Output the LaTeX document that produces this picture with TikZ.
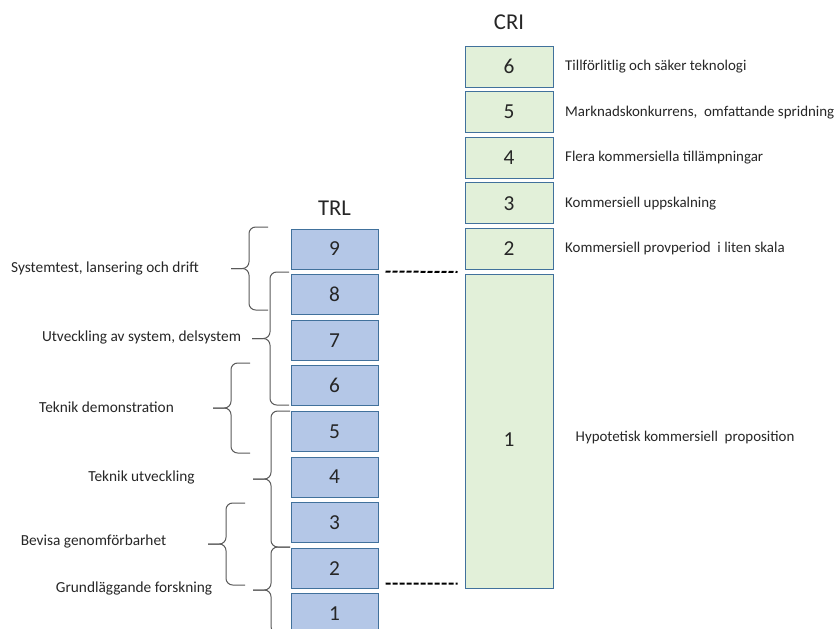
\documentclass[tikz,border=0pt]{standalone}
\usepackage{fontspec}
\setmainfont{Carlito}
\usepackage{tikz, xcolor}
\usetikzlibrary{calc}

\definecolor{trlblue}{HTML}{B4C7E7}
\definecolor{crigreen}{HTML}{E2F0D9}
\definecolor{boxedge}{HTML}{41719C}
\definecolor{braceline}{HTML}{595959}
\definecolor{ink}{HTML}{262626}

% brace that opens to the right: x of open ends, top y, bottom y
\newcommand{\phasebrace}[3]{%
  \draw [bracket] (#1,#2) -- ({#1-19},#2) -- ({#1-19},{(#2+#3)/2}) -- ({#1-37},{(#2+#3)/2});
  \draw [bracket] (#1,#3) -- ({#1-19},#3) -- ({#1-19},{(#2+#3)/2}) -- ({#1-37},{(#2+#3)/2});
}

\begin{document}
\begin{tikzpicture}[
  x=0.75pt, y=-0.75pt,
  level/.style={
    % The shape:
    rectangle,
    % The size:
    minimum width=65.25pt, minimum height=30pt,
    % The border:
    draw=boxedge, line width=0.75pt,
    % Font
    font=\fontsize{16}{18}\selectfont, text=ink,
    inner sep=0pt
  },
  trl/.style={level, fill=trlblue},
  cri/.style={level, fill=crigreen, minimum width=66pt, minimum height=30.75pt},
  title/.style={font=\fontsize{17}{20}\selectfont, text=ink},
  phase/.style={font=\fontsize{11.5}{13}\selectfont, text=ink},
  goal/.style={anchor=west, font=\fontsize{11.2}{13}\selectfont, text=ink},
  bracket/.style={draw=braceline, line width=0.75pt, rounded corners=5pt},
  gap/.style={line width=1.5pt, dash pattern=on 3.75pt off 1.5pt}
  ]

  \useasboundingbox (0,0) rectangle (840,629);

  % TRL column, 1 at the bottom
  \node (trltitle) [title] at (334.5, 208) {TRL};
  \foreach \n in {1,...,9}
    \node (t\n) [trl] at (334.5, {249 + (9-\n)*45.6}) {\n};

  % CRI column, level 1 spans TRL 8 to 2
  \node (crititle) [title] at (509, 22) {CRI};
  \foreach \n in {2,...,6}
    \node (c\n) [cri] at (509, {249 - (\n-2)*45.6}) {\n};
  \node (c1) [cri, minimum height=235.5pt] at (509, 431) {};
  \node (c1num) [title, font=\fontsize{16}{18}\selectfont] at (509, 440) {1};

  % what each CRI level means
  \node (g6) [goal] at ($(c6.east)+(7,0)$) {Tillförlitlig och säker teknologi};
  \node (g5) [goal] at ($(c5.east)+(7,0)$) {Marknadskonkurrens,\ \ omfattande spridning};
  \node (g4) [goal] at ($(c4.east)+(7,0)$) {Flera kommersiella tillämpningar};
  \node (g3) [goal] at ($(c3.east)+(7,0)$) {Kommersiell uppskalning};
  \node (g2) [goal] at ($(c2.east)+(7,0)$) {Kommersiell provperiod\ \ i liten skala};
  \node (g1) [goal] at (571, 438) {Hypotetisk kommersiell\ \ proposition};

  % dashed links between the two scales
  \draw [gap] ($(t9.south east)+(7,2)$) -- ($(c2.south west)+(-7,2)$);
  \draw [gap] ($(t2.south east)+(7,-5)$) -- ($(c1.south west)+(-7,-5)$);

  % braces grouping the TRL levels
  \phasebrace{268}{227}{310}
  \phasebrace{289}{272}{405}
  \phasebrace{250}{363}{453}
  \phasebrace{290}{411}{547}
  \phasebrace{245}{503}{585}
  \phasebrace{290}{547}{633}

  \node (p9) [phase] at (105, 268) {Systemtest, lansering och drift};
  \node (p8) [phase] at (141.5, 337) {Utveckling av system, delsystem};
  \node (p6) [phase] at (106.5, 407) {Teknik demonstration};
  \node (p5) [phase] at (141.5, 477) {Teknik utveckling};
  \node (p3) [phase] at (93.5, 541) {Bevisa genomförbarhet};
  \node (p2) [phase] at (134, 588) {Grundläggande forskning};

\end{tikzpicture}
\end{document}
